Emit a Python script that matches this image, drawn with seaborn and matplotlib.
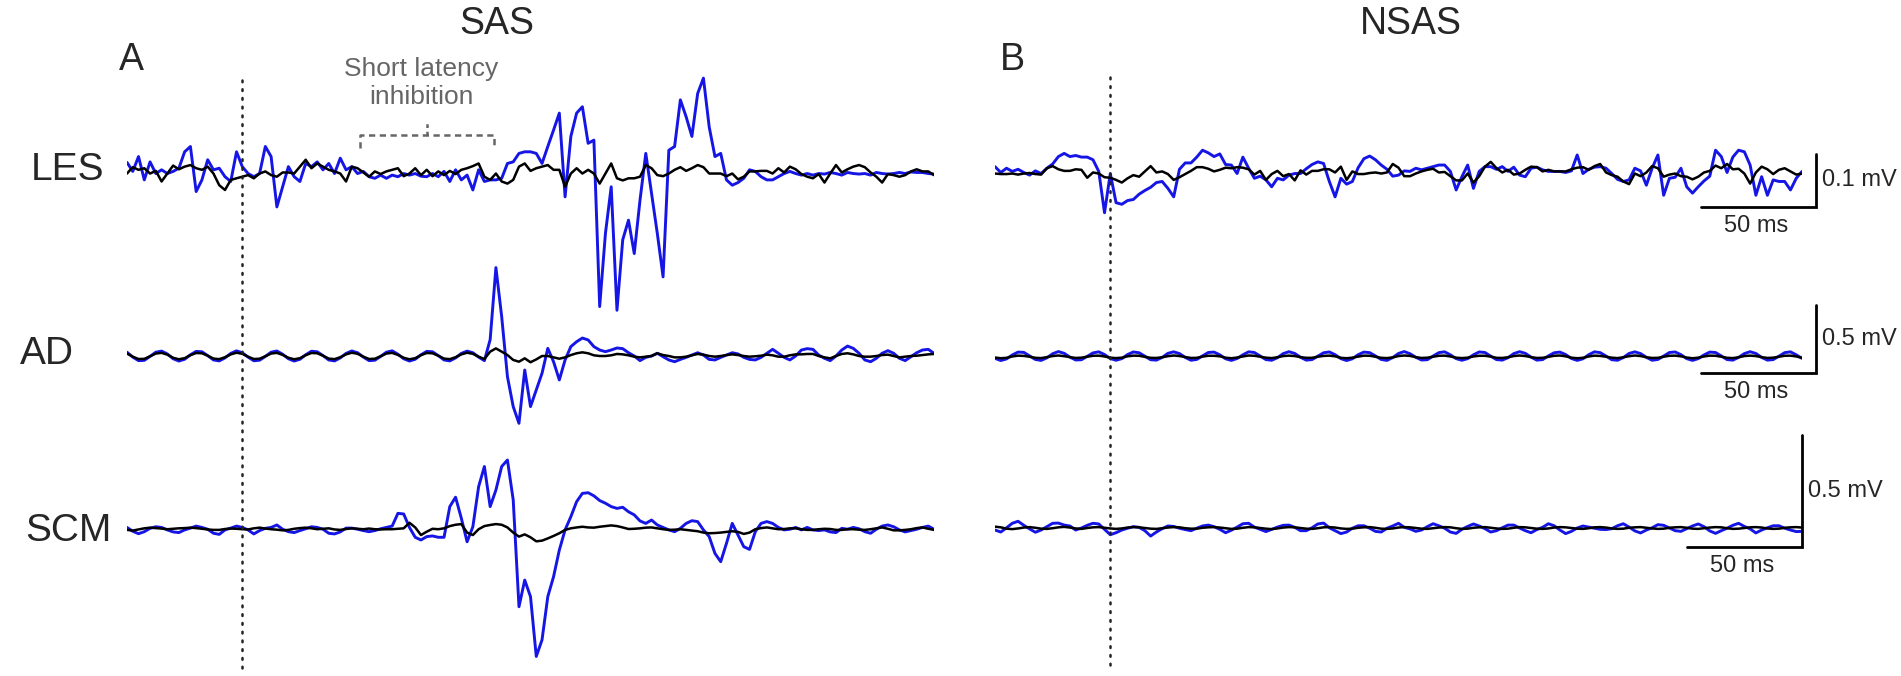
import numpy as np
import matplotlib
matplotlib.use("Agg")
import matplotlib.pyplot as plt
import seaborn as sns

# time base (ms), stimulus at 0
t_ms = np.arange(-50, 300.1, 2.5)

# EMG traces in microvolts (blue = with SAS / NSAS trial, black = control)
les_a_blue = [20, 3, 31, -13, 21, -1, 6, -1, 3, 9,
              40, 50, -35, -13, 25, 6, 9, -7, -16, 40,
              12, -1, -7, -1, 50, 31, -64, -26, 12, -7,
              -16, 18, 12, 21, 6, 18, -1, 28, 6, 12,
              -1, 3, -7, -10, -4, -10, -4, -7, -1, -4,
              -1, -6, -7, -1, -7, 3, -16, 6, -13, -4,
              -32, 6, -16, -13, -13, -10, 18, 21, 37, 40,
              40, 37, 18, 50, 81, 113, -45, 69, 113, 125,
              56, 62, -252, -114, -26, -259, -126, -89, -152, -51,
              37, -38, -114, -196, 43, 50, 138, 106, 69, 150,
              179, 87, 31, 37, -13, -23, -18, -10, 6, 3,
              -7, -13, -13, -7, -1, 3, -1, -4, -1, -4,
              -1, -2, 1, -1, -4, 1, -1, -2, -1, -4,
              1, -1, -2, -1, 1, -1, 2, 1, 1, -1,
              -2]
les_a_black = [-1, 11, 6, 9, -1, 4, -16, -1, 14, 7,
               12, 15, 9, 6, 12, -1, -23, -32, -13, -10,
               -7, -4, -10, -1, 3, -4, -7, 1, 1, -1,
               12, 25, 9, 18, 12, 6, 3, -1, -16, 12,
               9, 1, -7, 3, -2, 3, 6, 9, -6, -1,
               9, -4, 6, -6, 3, -4, 4, -2, 6, 9,
               13, 18, -7, -13, -1, -16, -20, -13, 12, 18,
               4, 9, 12, 15, 6, 6, -26, -1, 9, -1,
               6, -1, -20, -1, 18, -10, -14, -10, -10, -7,
               15, 9, -4, -6, -1, 6, 11, 4, 9, 15,
               11, -1, -1, -1, -6, -1, -12, -7, 3, 3,
               4, 4, -1, 9, 1, 12, 7, -2, -7, -10,
               -2, -18, -1, 15, 1, 7, 12, 15, 11, 1,
               -7, -18, -2, -4, -7, -4, 3, 7, 3, 3,
               -4]

ad_a_blue = [28, -8, -34, -32, -3, 28, 36, 15, -20, -37,
             -24, 9, 34, 31, 3, -29, -36, -14, 19, 38,
             24, -8, -35, -31, -3, 28, 37, 13, -20, -37,
             -24, 9, 35, 31, 3, -29, -36, -14, 19, 37,
             24, -8, -34, -31, -3, 28, 38, 13, -20, -37,
             -24, 9, 34, 31, 3, -29, -36, -14, 19, 36,
             24, -8, -34, 120, 650, 290, -152, -372, -495, -103,
             -372, -250, -127, 56, -42, -176, -29, 69, 105, 132,
             118, 69, 44, 32, 44, 59, 54, 24, 0, -34,
             -10, 0, 20, -5, -29, -42, -25, -10, 7, 24,
             7, -25, -29, -10, 7, 24, 15, -10, -25, -29,
             -10, 20, 49, 20, -10, -29, 0, 44, 54, 49,
             7, -17, -34, 0, 44, 73, 56, 20, -29, -42,
             -17, 20, 39, 20, -17, -34, -5, 24, 44, 49,
             20]
ad_a_black = [18, -5, -22, -21, -2, 18, 23, 10, -13, -24,
              -16, 6, 22, 20, 2, -19, -23, -9, 12, 24,
              16, -5, -22, -20, -2, 18, 23, 8, -13, -24,
              -16, 6, 22, 20, 2, -19, -23, -9, 12, 24,
              16, -5, -22, -20, -2, 18, 23, 8, -13, -24,
              -16, 6, 22, 20, 2, -19, -23, -9, 12, 24,
              16, -5, -22, 32, 56, 32, 7, -29, -42, -17,
              -46, -25, 0, 0, -10, -20, -10, 7, 20, 27,
              20, 5, 0, 0, 5, 15, 12, 5, -5, -10,
              -5, 0, 20, 7, 0, -10, -10, -5, 5, 15,
              10, 0, -5, 0, 7, 12, 7, 0, -5, -2,
              2, 10, 5, -5, -5, 5, 12, 12, 15, 15,
              0, -10, -17, 0, 15, 20, 12, 0, -5, -5,
              0, 7, 10, 0, -10, -5, 0, 2, 7, 12,
              15]

scm_a_blue = [7, -10, -21, -12, 3, 10, 7, -4, -13, -16,
              -4, 4, 13, 7, -1, -19, -24, -4, 4, 13,
              7, -4, -22, -7, 3, 7, 18, -1, -12, -16,
              -7, 1, 10, 7, -1, -19, -22, -13, 4, 4,
              -1, -7, -12, -7, 1, 7, 13, 70, 67, 7,
              -37, -49, -34, -31, -37, -37, 100, 142, 48, -57,
              10, 189, 279, 100, 174, 279, 308, 130, -347, -228,
              -302, -569, -495, -302, -213, -94, -4, 55, 122, 159,
              162, 148, 127, 115, 100, 92, 97, 77, 63, 36,
              25, 40, 18, 7, -4, -12, 3, 25, 37, 33,
              -4, -34, -109, -146, -64, 25, -27, -79, -91, -12,
              25, 33, 25, 7, -4, -1, 7, -4, 7, -4,
              -7, -4, -13, -16, 3, -1, 7, 1, -12, -19,
              -1, 13, 18, 10, -4, -13, -7, -1, 7, 13,
              -1]
scm_a_black = [-4, -7, -2, 3, 6, 4, 2, -1, 1, 3,
               4, 6, 4, 1, -2, -4, -4, 0, 2, 1,
               -1, -2, 3, 6, 2, -1, -3, -6, -4, 1,
               4, 6, 3, -1, 1, 3, -2, -4, 0, 3,
               1, -1, 2, -1, -2, -1, -1, 1, 3, 28,
               7, -27, -12, 1, -1, 3, 13, 19, 22, -16,
               -27, -1, 13, 18, 22, 19, 7, -16, -34, -24,
               -37, -55, -52, -42, -31, -19, -4, 3, 7, 10,
               7, 6, 10, 13, 16, 13, 7, 0, 1, 3,
               6, 7, 3, -1, -4, -3, -1, -4, -7, -10,
               -16, -19, -18, -16, -13, -10, -13, -22, -16, -1,
               4, 7, 3, -1, 0, 3, 3, -1, -4, -4,
               -1, 1, 0, -4, -4, -1, -1, -3, -4, -1,
               3, 7, 1, -6, -6, -4, -1, 4, 7, 1,
               -4]

les_b_blue = [12, 1, 9, 3, 7, 1, -4, 4, -1, 9,
              17, 31, 37, 31, 33, 30, 30, 25, 3, -75,
              -1, -56, -59, -52, -50, -40, -33, -27, -18, -16,
              -29, -45, 7, 19, 19, 30, 43, 38, 31, 36,
              16, 15, -1, 30, 9, -10, -6, -13, -26, -10,
              -13, -4, -1, -1, 8, 16, 21, 18, -16, -45,
              -10, -21, -16, 10, 27, 32, 25, 15, 7, -6,
              -4, 4, 3, 9, 6, 9, 12, 15, 15, 3,
              -32, -7, 15, -29, 3, 12, 12, 7, 12, 3,
              11, -4, -7, 9, 11, 6, 3, 3, 3, 1,
              4, 34, -1, 7, 11, 12, 9, -1, -12, -16,
              -13, 9, 4, -23, 9, 34, -42, -10, -8, 9,
              -26, -38, -26, -15, -6, 43, 31, 1, 30, 43,
              40, 15, -42, -7, -42, -13, -16, -16, -32, -10,
              3]
les_b_black = [-1, -2, -2, -1, -3, -1, 0, -2, -3, 9,
               13, 7, 4, 4, 7, 6, -9, 1, -1, -8,
               -9, -13, -18, -10, -4, -7, 3, 13, 1, 3,
               -2, -13, -8, -2, 4, 11, 11, 8, 3, 6,
               10, 9, 11, 10, 7, -3, 4, -13, -2, 4,
               -6, -2, -14, 5, -3, 4, 4, 7, 7, 1,
               12, -13, 3, -2, -2, 0, 1, -1, 1, 17,
               10, -6, -6, -1, 3, 6, 8, 1, 2, -6,
               -14, -14, -1, -18, -6, 12, 21, 9, 1, 6,
               -3, -1, 6, 12, 11, 3, 6, 3, 3, 3,
               7, 10, 11, 6, 13, 17, 1, -4, -7, -16,
               -21, -1, -6, 1, 13, 9, -7, -3, -1, -6,
               -7, -12, -7, 1, 4, 14, 9, 17, 7, 8,
               -1, -20, 1, 12, 7, -2, 6, 9, 3, -3,
               -1]

ad_b_blue = [-10, -26, -14, 15, 36, 34, 8, -18, -25, -6,
             24, 40, 27, -1, -22, -20, 5, 30, 38, 18,
             -11, -24, -12, 18, 37, 31, 6, -20, -23, -3,
             27, 38, 25, -3, -24, -18, 8, 33, 36, 16,
             -13, -25, -11, 16, 38, 33, 7, -19, -24, -5,
             25, 39, 26, -2, -23, -19, 6, 31, 37, 17,
             -12, -26, -13, 17, 36, 32, 8, -18, -25, -4,
             26, 40, 24, -2, -22, -20, 7, 32, 38, 16,
             -12, -24, -12, 16, 37, 33, 6, -19, -23, -5,
             25, 39, 27, -1, -23, -19, 8, 31, 36, 18,
             -11, -25, -13, 17, 38, 32, 7, -20, -24, -4,
             26, 38, 25, -2, -24, -18, 7, 33, 37, 17,
             -12, -25, -12, 15, 36, 33, 8, -19, -23, -3,
             25, 39, 26, -3, -23, -19, 6, 32, 38, 16,
             -10]
ad_b_black = [-4, -9, -6, 4, 10, 8, 2, -6, -8, -1,
              7, 11, 6, -1, -7, -5, 2, 9, 10, 4,
              -5, -8, -5, 5, 10, 9, 1, -6, -7, -2,
              6, 11, 7, 0, -7, -6, 3, 9, 9, 5,
              -5, -9, -4, 4, 11, 9, 2, -5, -8, -2,
              7, 10, 7, -1, -6, -6, 2, 8, 10, 5,
              -6, -9, -5, 3, 10, 9, 2, -6, -8, -3,
              7, 11, 8, -1, -7, -5, 2, 9, 10, 4,
              -5, -8, -5, 4, 9, 9, 3, -6, -7, -2,
              7, 11, 7, -1, -7, -6, 1, 9, 11, 5,
              -5, -9, -6, 4, 10, 8, 2, -5, -8, -2,
              6, 11, 7, -2, -7, -6, 2, 9, 10, 5,
              -4, -9, -5, 4, 10, 9, 2, -6, -8, -2,
              7, 10, 7, -1, -7, -5, 2, 9, 10, 4,
              -6]

scm_b_blue = [-9, -18, 1, 21, 30, 12, -4, -19, -9, 6,
              21, 22, 13, 9, -9, 0, 12, 21, 18, -6,
              -30, -21, -9, -1, 6, 3, -12, -36, -18, -3,
              9, 7, -1, -7, -12, -1, 9, 13, 6, -6,
              -21, -10, 4, 19, 21, 4, -6, -16, -6, 4,
              12, 13, 3, -12, -12, 1, 18, 22, 1, -12,
              -25, -18, -1, 10, 10, -1, -15, -18, -1, 9,
              21, 3, -4, -15, -9, 6, 19, 10, -1, -18,
              -24, -6, 7, 18, 9, -3, -18, -12, 1, 13,
              13, 0, -12, -21, -7, 3, 19, 10, -9, -25,
              -15, 0, 9, 4, -1, -6, -7, -3, 10, 19,
              4, -13, -22, -9, 1, 15, 12, 0, -12, -15,
              -3, 9, 18, 6, -13, -24, -12, -1, 12, 21,
              7, -4, -22, -9, 1, 10, 10, -1, -9, -16,
              -15]
scm_b_black = [6, 3, -3, -5, -2, 2, 4, 1, -3, -4,
               -1, 3, 5, 2, -2, -4, 0, 3, 4, 1,
               -2, -4, -2, 2, 4, 3, 0, -3, -4, -1,
               2, 4, 3, -1, -3, -3, 1, 3, 4, 2,
               -1, -4, -3, 1, 4, 3, 0, -3, -5, -2,
               2, 4, 3, 0, -3, -4, -1, 3, 4, 2,
               -2, -4, -3, 1, 3, 4, 1, -3, -4, -2,
               2, 4, 3, 0, -3, -4, -1, 2, 4, 3,
               -1, -4, -3, 1, 3, 4, 1, -2, -4, -3,
               1, 4, 3, 0, -3, -4, -2, 2, 4, 3,
               0, -3, -4, -1, 3, 4, 2, -2, -4, -3,
               1, 3, 4, 1, -2, -4, -3, 1, 3, 4,
               1, -3, -4, -1, 2, 4, 3, -1, -4, -3,
               0, 3, 4, 2, -2, -4, -3, 1, 3, 4,
               2]

muscles = ["LES", "AD", "SCM"]
traces = {
    ("A", "LES"): (les_a_blue, les_a_black),
    ("A", "AD"): (ad_a_blue, ad_a_black),
    ("A", "SCM"): (scm_a_blue, scm_a_black),
    ("B", "LES"): (les_b_blue, les_b_black),
    ("B", "AD"): (ad_b_blue, ad_b_black),
    ("B", "SCM"): (scm_b_blue, scm_b_black),
}
# scale bars: (time length ms, amplitude length uV, label)
scale_bars = {"LES": (50, 100, "0.1 mV"), "AD": (50, 500, "0.5 mV"), "SCM": (50, 500, "0.5 mV")}

BLUE = "#1515e6"
GRAY = "#666666"
W, H = 1901, 676

sns.set_style("white")
plt.rcParams["font.family"] = ["Liberation Sans", "DejaVu Sans"]

fig = plt.figure(figsize=(W / 100, H / 100), dpi=100)


def px_axes(left, top, right, bottom):
    ax = fig.add_axes([left / W, 1 - bottom / H, (right - left) / W, (bottom - top) / H])
    ax.set_axis_off()
    ax.patch.set_alpha(0)
    return ax


# column placement in pixels: (left, right)
cols = {"A": (127, 934), "B": (995, 1802)}
# row layout: baseline px per column, pixels per uV, and axes top/bottom
rows = {
    "LES": dict(base={"A": 173, "B": 173}, ppu=0.53, top=30, bottom=330),
    "AD": dict(base={"A": 356, "B": 357}, ppu=0.136, top=230, bottom=470),
    "SCM": dict(base={"A": 529, "B": 528}, ppu=0.224, top=400, bottom=676),
}

axes = {}
for col, (x0, x1) in cols.items():
    for m in muscles:
        r = rows[m]
        base = r["base"][col]
        ax = px_axes(x0, r["top"], x1, r["bottom"])
        ax.set_xlim(-50, 300)
        ax.set_ylim(-(r["bottom"] - base) / r["ppu"], (base - r["top"]) / r["ppu"])
        blue, black = traces[(col, m)]
        sns.lineplot(x=t_ms, y=blue, ax=ax, color=BLUE, linewidth=2.1, errorbar=None)
        sns.lineplot(x=t_ms, y=black, ax=ax, color="black", linewidth=1.8, errorbar=None)
        ax.set_axis_off()
        axes[(col, m)] = ax

# stimulus onset (dotted line spanning the column)
for col, (x0, x1), y_end in [("A", cols["A"], 668), ("B", cols["B"], 665)]:
    ov = px_axes(x0, 0, x1, H)
    ov.set_xlim(-50, 300)
    ov.set_ylim(0, 1)
    ov.axvline(0, ymin=1 - y_end / H, ymax=1 - 74 / H, color="#222222",
               linewidth=1.8, linestyle=(0, (0.7, 2.8)), dash_capstyle="round")

# scale bars on the right of panel B
bar_pos = {"LES": (306, -64), "AD": (306, -118), "SCM": (300, -85)}
for m in muscles:
    ax = axes[("B", m)]
    dt, dv, lab = scale_bars[m]
    xr, yb = bar_pos[m]
    ax.plot([xr - dt, xr, xr], [yb, yb, yb + dv], color="black", linewidth=2.0,
            clip_on=False, solid_joinstyle="miter")
    ppu = rows[m]["ppu"]
    ax.text(xr + 2.5, yb + dv / 2, lab, fontsize=17, ha="left", va="center", clip_on=False)
    ax.text(xr - dt / 2 - 1, yb - 8 / ppu, "50 ms", fontsize=17, ha="center",
            va="top", clip_on=False)

# short latency inhibition bracket
ax = axes[("A", "LES")]
ax.plot([51, 51, 109, 109], [47, 72, 72, 47], color=GRAY, linewidth=1.8,
        linestyle=(0, (2.5, 1.8)), clip_on=False)
ax.plot([80, 80], [72, 98], color=GRAY, linewidth=1.8, linestyle=(0, (1.5, 1.5)),
        clip_on=False)
fig.text(421 / W, 1 - 83 / H, "Short latency\ninhibition", color=GRAY, fontsize=19,
         ha="center", va="center", linespacing=1.2)

# titles, panel letters, muscle labels
fig.text(497 / W, 1 - 24 / H, "SAS", fontsize=27, ha="center", va="center")
fig.text(1411 / W, 1 - 24 / H, "NSAS", fontsize=27, ha="center", va="center")
fig.text(131 / W, 1 - 60 / H, "A", fontsize=27, ha="center", va="center")
fig.text(1012 / W, 1 - 60 / H, "B", fontsize=27, ha="center", va="center")
for m, (xc, yc) in zip(muscles, [(68, 170), (47, 354), (68, 531)]):
    fig.text(xc / W, 1 - yc / H, m, fontsize=28, ha="center", va="center")

fig.savefig("out.png", dpi=100)
